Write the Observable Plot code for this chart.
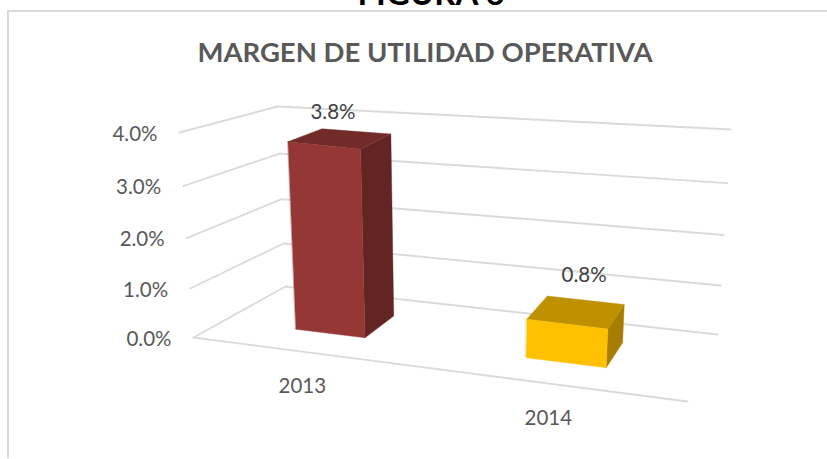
<!DOCTYPE html>
<html><head><meta charset="utf-8">
<script src="https://cdn.jsdelivr.net/npm/d3@7"></script>
<script src="https://cdn.jsdelivr.net/npm/@observablehq/plot@0.6"></script>
<style>
html,body{margin:0;padding:0;background:#fff;width:827px;height:459px;overflow:hidden}
#frame{position:absolute;left:7px;top:10px;right:-5px;height:448px;border-left:2px solid #d9d9d9;border-top:2px solid #d9d9d9;box-sizing:border-box}
#fig{position:absolute;left:0;width:862px;top:-28px;text-align:center;font:700 33px Lato,sans-serif;color:#000;line-height:40px}
#chart{position:absolute;left:0;top:0}
svg{display:block;background:transparent}
</style></head><body>
<div id="frame"></div>
<div id="fig">FIGURA 6</div>
<div id="chart"></div>
<script>
const figureTitle = "FIGURA 6";
const chartTitle = "MARGEN DE UTILIDAD OPERATIVA";
const categories = ["2013", "2014"];
const values = [3.8, 0.8];
const ticks = [0, 1, 2, 3, 4];
const frontColors = ["#953735", "#ffc000"];
const topColors = ["#722b29", "#bf9000"];
const sideColors = ["#632523", "#a67d00"];

// 3D box of the chart: t along categories, w in depth, s = value height.
const box = {
  floor: {fl:[193,337], fr:[687,401], bl:[285,286], br:[717,334]},
  roof:  {fl:[179,132], fr:[699,196], bl:[277,106], br:[730,129]}
};
const persp = (a, c) => a * (1 + c) / (1 + c * a);
const mix = (a, b, k) => [a[0] + (b[0]-a[0])*k, a[1] + (b[1]-a[1])*k];
function project(t, w, v) {
  const u = persp(t, -0.137), s = persp(v / 4, -0.058);
  const at = q => mix(mix(q.fl, q.fr, u), mix(q.bl, q.br, u), w);
  return mix(at(box.floor), at(box.roof), s);
}
const halfBar = 0.079, w0 = 0.335, w1 = 0.725;
const pt = (t, w, v) => { const [x, y] = project(t, w, v); return {x, y}; };

function face(corners) { return corners.map(c => pt(...c)); }

const gridLines = ticks.flatMap(v => [[pt(0,0,v), pt(0,1,v)], [pt(0,1,v), pt(1,1,v)]]);
gridLines.push([pt(0,0,0), pt(1,0,0)]);

const marks = [];
for (const g of gridLines) marks.push(Plot.line(g, {x:"x", y:"y", stroke:"#dadada", strokeWidth:1.9}));

categories.forEach((c, i) => {
  const tc = (i + 0.5) / 2, a = tc - halfBar, b = tc + halfBar, v = values[i];
  const poly = (cs, fill) => marks.push(Plot.line(face(cs), {x:"x", y:"y", fill, stroke:fill, strokeWidth:0.4, curve:"linear-closed"}));
  poly([[b,w0,0],[b,w1,0],[b,w1,v],[b,w0,v]], sideColors[i]);
  poly([[a,w0,v],[b,w0,v],[b,w1,v],[a,w1,v]], topColors[i]);
  poly([[a,w0,0],[b,w0,0],[b,w0,v],[a,w0,v]], frontColors[i]);
});

const textStyle = {fontFamily:"Lato, sans-serif", fontSize:20.5, fill:"#595959"};
marks.push(Plot.text(ticks, {
  x: v => pt(0,0,v).x, y: v => pt(0,0,v).y,
  text: v => v.toFixed(1) + "%", textAnchor:"end", dx:-22, dy:1.5, ...textStyle
}));
marks.push(Plot.text(categories, {
  x: (c,i) => pt((i+0.5)/2,0,0).x, y: (c,i) => pt((i+0.5)/2,0,0).y,
  text: c => c, dx:-1.5, dy:34.5, ...textStyle
}));
// data labels
const labelOffset = [[-7,-26],[8,-37]];
categories.forEach((c, i) => {
  const p = pt((i+0.5)/2, (w0+w1)/2, values[i]);
  marks.push(Plot.text([p], {x:"x", y:"y", text: () => values[i].toFixed(1) + "%",
    dx: labelOffset[i][0], dy: labelOffset[i][1], ...textStyle, fill:"#404040"}));
});
marks.push(Plot.text([chartTitle], {
  x: () => 424.5, y: () => 53, text: d => d,
  fontFamily:"Lato, sans-serif", fontWeight:700, fontSize:27.5, fill:"#595959"
}));

const chart = Plot.plot({
  width:827, height:459, margin:0,
  x:{domain:[0,827], range:[0,827], axis:null},
  y:{domain:[0,459], range:[0,459], axis:null},
  style:{background:"transparent", overflow:"hidden"},
  marks
});
document.getElementById("chart").append(chart);
</script>
</body></html>
